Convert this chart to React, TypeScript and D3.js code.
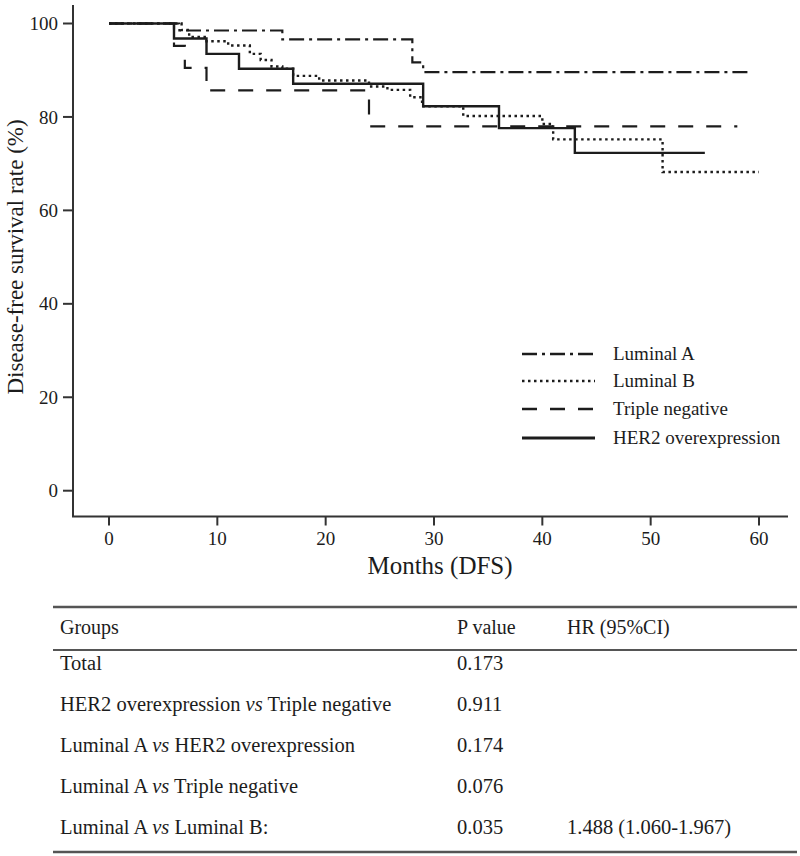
import React from "react";
import * as d3 from "d3";

// ---- Data ----
const seriesNames = ["Luminal A", "Luminal B", "Triple negative", "HER2 overexpression"];

const lumATimes = [0, 6.5, 16, 28, 29];
const lumASurv = [100, 98.5, 96.6, 91.7, 89.6];
const lumAEnd = 59;

const lumBTimes = [0, 6.7, 7.4, 9, 11, 13, 14, 15, 16, 17, 19.4, 24, 25.7, 27.8, 28.9, 32.7, 40, 41, 51.1];
const lumBSurv = [100, 98.6, 97.1, 96.2, 95.3, 93.5, 92.2, 90.8, 90.3, 88.8, 87.8, 86.5, 85.8, 84.2, 82.3, 80.2, 78.5, 75.2, 68.2];
const lumBEnd = 60;

const tnTimes = [0, 6, 7, 9, 24];
const tnSurv = [100, 95.2, 90.5, 85.7, 78.0];
const tnEnd = 58;

const her2Times = [0, 6, 9, 12, 17, 29, 36, 43];
const her2Surv = [100, 96.8, 93.5, 90.3, 87.1, 82.3, 77.6, 72.3];
const her2End = 55;

const xTicks = [0, 10, 20, 30, 40, 50, 60];
const yTicks = [0, 20, 40, 60, 80, 100];

const tableHeaders = ["Groups", "P value", "HR (95%CI)"];
const tableGroups = [
  "Total",
  "HER2 overexpression vs Triple negative",
  "Luminal A vs HER2 overexpression",
  "Luminal A vs Triple negative",
  "Luminal A vs Luminal B:",
];
const tablePValues = ["0.173", "0.911", "0.174", "0.076", "0.035"];
const tableHR = ["", "", "", "", "1.488 (1.060-1.967)"];

// ---- Styles ----
const FONT = "'Liberation Serif', 'Times New Roman', serif";
const INK = "#1c1c1c";
const dashes = ["15,5,3,5", "2.5,3.5", "15,13", null];
const widths = [2.2, 2.4, 2.2, 2.4];

export default function App() {
  const W = 800;
  const H = 856;
  const x = d3.scaleLinear().domain([0, 60]).range([109, 759]);
  const y = d3.scaleLinear().domain([0, 100]).range([490.7, 23.5]);

  const build = (t: number[], s: number[], end: number) => {
    const pts: [number, number][] = t.map((v, i) => [v, s[i]]);
    pts.push([end, s[s.length - 1]]);
    return pts;
  };
  const series = [
    build(lumATimes, lumASurv, lumAEnd),
    build(lumBTimes, lumBSurv, lumBEnd),
    build(tnTimes, tnSurv, tnEnd),
    build(her2Times, her2Surv, her2End),
  ];
  const line = d3
    .line<[number, number]>()
    .x((d) => x(d[0]))
    .y((d) => y(d[1]))
    .curve(d3.curveStepAfter);

  const axisX = 73;
  const axisY = 516.5;

  const legendX0 = 522;
  const legendX1 = 595;
  const legendRows = [354, 381, 409, 438];

  const rowY = [663, 704, 745, 786, 827];
  const colX = [60, 457, 567];

  return (
    <svg
      width={W}
      height={H}
      viewBox={`0 0 ${W} ${H}`}
      style={{ position: "absolute", left: 0, top: 0, background: "#fff" }}
      fontFamily={FONT}
    >
      <rect x={0} y={0} width={W} height={H} fill="#fff" />
      {/* axes */}
      <line x1={axisX} x2={axisX} y1={5} y2={axisY} stroke="#333" strokeWidth={2} />
      <line x1={axisX - 1} x2={788} y1={axisY} y2={axisY} stroke="#333" strokeWidth={2} />
      {yTicks.map((t) => (
        <g key={"y" + t}>
          <line x1={axisX - 10} x2={axisX} y1={y(t)} y2={y(t)} stroke="#333" strokeWidth={2} />
          <text x={58} y={y(t)} dy="0.35em" textAnchor="end" fontSize={19} fill={INK}>
            {t}
          </text>
        </g>
      ))}
      {xTicks.map((t) => (
        <g key={"x" + t}>
          <line x1={x(t)} x2={x(t)} y1={axisY} y2={axisY + 9} stroke="#333" strokeWidth={2} />
          <text x={x(t)} y={538} dy="0.35em" textAnchor="middle" fontSize={19} fill={INK}>
            {t}
          </text>
        </g>
      ))}
      <text x={440} y={565} dy="0.35em" textAnchor="middle" fontSize={25} fill={INK}>
        Months (DFS)
      </text>
      <text
        transform={`translate(15,257) rotate(-90)`}
        dy="0.35em"
        textAnchor="middle"
        fontSize={23}
        fill={INK}
      >
        Disease-free survival rate (%)
      </text>

      {/* curves */}
      {series.map((pts, i) => (
        <path
          key={"s" + i}
          d={line(pts) || ""}
          fill="none"
          stroke={INK}
          strokeWidth={widths[i]}
          strokeDasharray={dashes[i] || undefined}
        />
      ))}

      {/* legend */}
      {seriesNames.map((name, i) => (
        <g key={"l" + i}>
          <line
            x1={legendX0}
            x2={legendX1}
            y1={legendRows[i]}
            y2={legendRows[i]}
            stroke={INK}
            strokeWidth={i === 3 ? 3 : 2.4}
            strokeDasharray={dashes[i] || undefined}
          />
          <text x={613} y={legendRows[i]} dy="0.33em" fontSize={19} fill={INK}>
            {name}
          </text>
        </g>
      ))}

      {/* table */}
      <line x1={53} x2={797} y1={607} y2={607} stroke="#555" strokeWidth={2.5} />
      <line x1={53} x2={797} y1={650} y2={650} stroke="#555" strokeWidth={2} />
      <line x1={53} x2={797} y1={852} y2={852} stroke="#555" strokeWidth={2.5} />
      {tableHeaders.map((h, i) => (
        <text key={"h" + i} x={colX[i]} y={627} dy="0.35em" fontSize={20} fill={INK}>
          {h}
        </text>
      ))}
      {tableGroups.map((g, i) => {
        const parts = g.split(" vs ");
        return (
          <g key={"r" + i}>
            <text x={colX[0]} y={rowY[i]} dy="0.35em" fontSize={20.5} fill={INK}>
              {parts.length > 1 ? (
                <>
                  {parts[0] + " "}
                  <tspan fontStyle="italic">vs</tspan>
                  {" " + parts[1]}
                </>
              ) : (
                g
              )}
            </text>
            <text x={colX[1]} y={rowY[i]} dy="0.35em" fontSize={20.5} fill={INK}>
              {tablePValues[i]}
            </text>
            {tableHR[i] && (
              <text x={colX[2]} y={rowY[i]} dy="0.35em" fontSize={20.5} fill={INK}>
                {tableHR[i]}
              </text>
            )}
          </g>
        );
      })}
    </svg>
  );
}
